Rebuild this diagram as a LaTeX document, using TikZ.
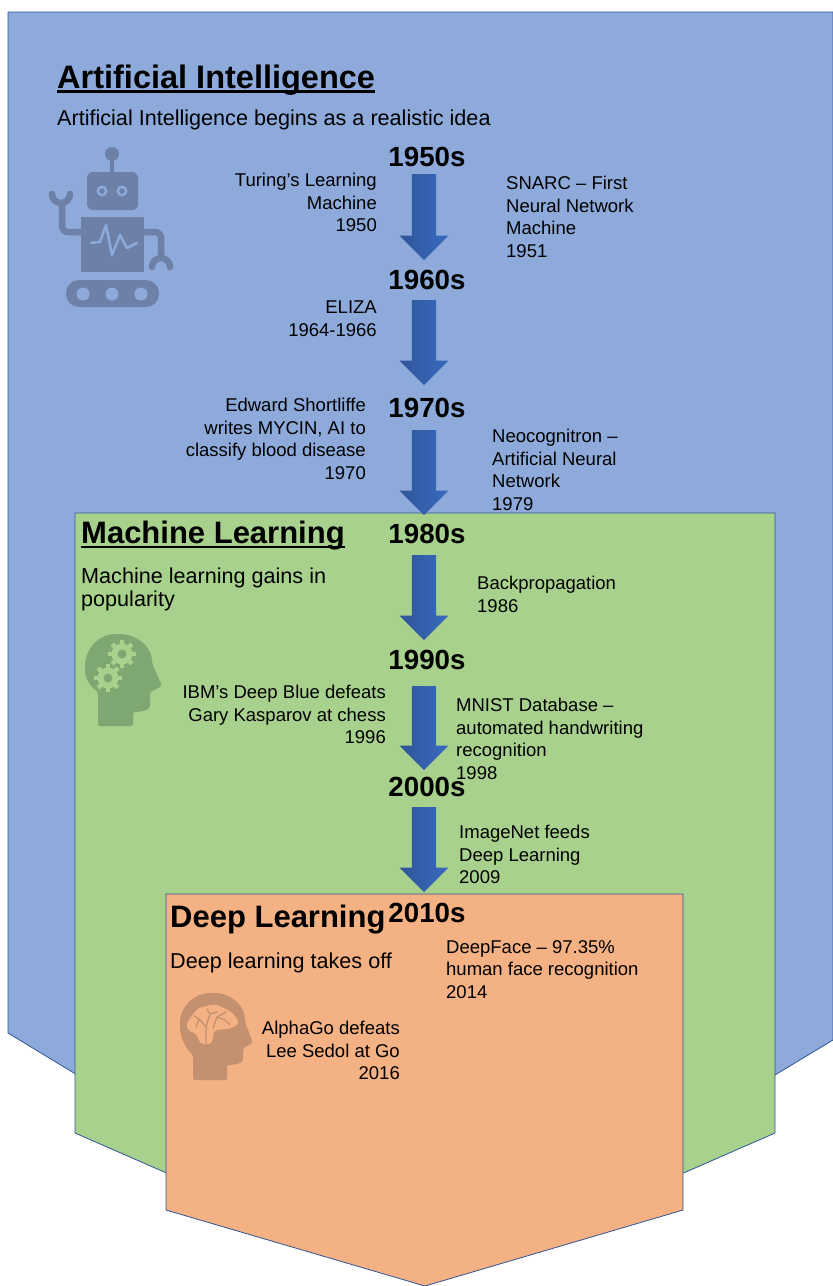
\documentclass[tikz,border=0pt]{standalone}
\usepackage{fontspec}
\setmainfont{Liberation Sans}
\usetikzlibrary{shapes.arrows}
\definecolor{aiblue}{HTML}{8EAADB}
\definecolor{mlgreen}{HTML}{A9D18E}
\definecolor{dlorange}{HTML}{F4B183}
\definecolor{edgeblue}{HTML}{2F5597}
\definecolor{arrowlight}{HTML}{3A6BC0}
\definecolor{roboticon}{HTML}{6D81A8}
\definecolor{gearicon}{HTML}{7FA771}
\definecolor{brainicon}{HTML}{C49170}
\tikzset{
  panel/.style={draw=edgeblue, line width=0.8pt},
  decade/.style={font=\fontsize{27.7}{30}\selectfont\bfseries, inner sep=0pt},
  heading/.style={font=\fontsize{31}{36}\selectfont\bfseries, anchor=west, inner sep=0pt},
  subhead/.style={font=\fontsize{21.6}{23}\selectfont, anchor=north west, align=left, inner sep=0pt},
  noteleft/.style={font=\fontsize{18.5}{22.6}\selectfont, anchor=north west, align=left, inner sep=0pt},
  noteright/.style={font=\fontsize{18.5}{22.6}\selectfont, anchor=north east, align=right, inner sep=0pt},
  downarrow/.style={shape=single arrow, rotate=-90, anchor=tail, minimum width=49, minimum height=#1,
    single arrow head extend=12.5, single arrow head indent=0, inner xsep=0pt, inner ysep=12pt,
    left color=edgeblue, right color=arrowlight},
}
\newcommand{\headline}[1]{\setbox0\hbox{#1}\rlap{\smash{\rule[-4.5pt]{\wd0}{2.4pt}}}\box0}
\newcommand{\cogwheel}[2]{%
  \fill [mlgreen] (#1,#2) circle (10.5);
  \foreach \a in {0,45,...,315} {
    \draw [mlgreen, line width=4.5] (#1,#2) -- ++(\a:14);
  }
  \fill [gearicon] (#1,#2) circle (4.5);
}
\begin{document}
\begin{tikzpicture}[x=1pt, y=-1pt]
  \useasboundingbox (0,0) rectangle (833,1286);
  % the three nested panels
  \draw [panel, fill=aiblue] (8,12) -- (833,12) -- (833,1040) -- (425,1286) -- (8,1033) -- cycle;
  \draw [panel, fill=mlgreen] (75,513) -- (775,513) -- (775,1133) -- (425,1286) -- (75,1133) -- cycle;
  \draw [panel, fill=dlorange] (166,894) -- (683,894) -- (683,1210) -- (425,1286) -- (166,1210) -- cycle;

  % robot
  \draw [roboticon, line width=3.5] (112,154) -- (112,175);
  \fill [roboticon] (112,154) circle (7);
  \fill [roboticon, rounded corners=6] (87,172) rectangle (138,210);
  \fill [aiblue] (102,191) circle (5.5) (122,191) circle (5.5);
  \fill [roboticon] (102,191) circle (2.8) (122,191) circle (2.8);
  \fill [roboticon] (81,217) rectangle (144,272);
  \draw [aiblue, line width=2.5, line join=round, line cap=round] (91,243) -- (100,242) -- (106,225) -- (112,255) -- (120,235) -- (127,248) -- (137,243);
  \fill [roboticon, rounded corners=13] (66,280) rectangle (159,307);
  \fill [aiblue] (83,294) circle (6.5) (112,294) circle (6.5) (141,294) circle (6.5);
  \draw [roboticon, line width=6.5, rounded corners=6] (81,232) -- (62,232) -- (62,200);
  \draw [roboticon, line width=6.5, line cap=round] (52,194) arc (180:0:9);
  \draw [roboticon, line width=6.5, rounded corners=6] (144,232) -- (161,232) -- (161,258);
  \draw [roboticon, line width=6.5, line cap=round] (152,267) arc (180:360:9);

  % head with gears
  \fill [gearicon, rounded corners=2] (98,726) -- (98,692) .. controls (90,686) and (85,678) .. (85,668)
    .. controls (85,648) and (100,634) .. (117,634) .. controls (137,634) and (152,647) .. (152,663)
    -- (162,686) -- (150,692) -- (150,704) .. controls (150,710) and (142,712) .. (133,712) -- (133,726) -- cycle;
  \cogwheel{122}{654}
  \cogwheel{108}{678}

  % head with brain
  \fill [brainicon, rounded corners=2] (193,1080) -- (193,1055) .. controls (185,1048) and (180,1036) .. (180,1024)
    .. controls (180,1006) and (195,993) .. (212,993) .. controls (232,993) and (245,1006) .. (245,1022)
    -- (253,1043) -- (243,1048) -- (243,1058) .. controls (243,1063) and (235,1065) .. (227,1065) -- (227,1080) -- cycle;
  \fill [dlorange, rounded corners=4] (187,1022) -- (198,1008) -- (215,1004) -- (232,1012) -- (240,1023) -- (230,1029) -- (214,1030) -- (212,1044) -- (200,1044) -- (197,1034) -- (187,1030) -- cycle;
  \draw [brainicon, line width=1.3, line cap=round] (206,1044) -- (206,1027) -- (199,1019) (194,1016) -- (199,1019) -- (196,1027) (206,1027) -- (210,1014) -- (207,1009) (210,1014) -- (217,1012) (213,1028) -- (217,1017) -- (225,1020) -- (230,1025) (217,1017) -- (226,1012);

  % decades
  \node [decade] (d1950) at (427,157) {1950s};
  \node [decade] (d1960) at (427,280) {1960s};
  \node [decade] (d1970) at (427,408) {1970s};
  \node [decade] (d1980) at (427,534) {1980s};
  \node [decade] (d1990) at (427,660) {1990s};
  \node [decade] (d2000) at (427,787) {2000s};
  \node [decade] (d2010) at (427,913) {2010s};

  \node [downarrow=86] (a1) at (424,174) {};
  \node [downarrow=85] (a2) at (424,300) {};
  \node [downarrow=85] (a3) at (424,430) {};
  \node [downarrow=85] (a4) at (424,555) {};
  \node [downarrow=84] (a5) at (424,686) {};
  \node [downarrow=85] (a6) at (424,807) {};

  % headings
  \node [heading, font=\fontsize{32.5}{36}\selectfont\bfseries] (aihead) at (57,80) {\headline{Artificial Intelligence}};
  \node [subhead] (aisub) at (57,110) {Artificial Intelligence begins as a realistic idea};
  \node [heading] (mlhead) at (81,536) {\headline{Machine Learning}};
  \node [subhead] (mlsub) at (81,568) {Machine learning gains in\\popularity};
  \node [heading] (dlhead) at (170,920) {Deep Learning};
  \node [subhead] (dlsub) at (170,953) {Deep learning takes off};

  % events
  \node [noteright] (turing) at (377,173) {Turing’s Learning\\Machine\\1950};
  \node [noteleft] (snarc) at (506,176) {SNARC – First\\Neural Network\\Machine\\1951};
  \node [noteright] (eliza) at (377,301) {ELIZA\\1964-1966};
  \node [noteright] (mycin) at (366,398) {Edward Shortliffe\\writes MYCIN, AI to\\classify blood disease\\1970};
  \node [noteleft] (neo) at (492,429) {Neocognitron –\\Artificial Neural\\Network\\1979};
  \node [noteleft] (backprop) at (477,576) {Backpropagation\\1986};
  \node [noteright] (blue) at (386,685) {IBM’s Deep Blue defeats\\Gary Kasparov at chess\\1996};
  \node [noteleft] (mnist) at (456,698) {MNIST Database –\\automated handwriting\\recognition\\1998};
  \node [noteleft] (imagenet) at (459,825) {ImageNet feeds\\Deep Learning\\2009};
  \node [noteleft] (deepface) at (446,940) {DeepFace – 97.35\%\\human face recognition\\2014};
  \node [noteright] (alphago) at (400,1021) {AlphaGo defeats\\Lee Sedol at Go\\2016};
\end{tikzpicture}
\end{document}
